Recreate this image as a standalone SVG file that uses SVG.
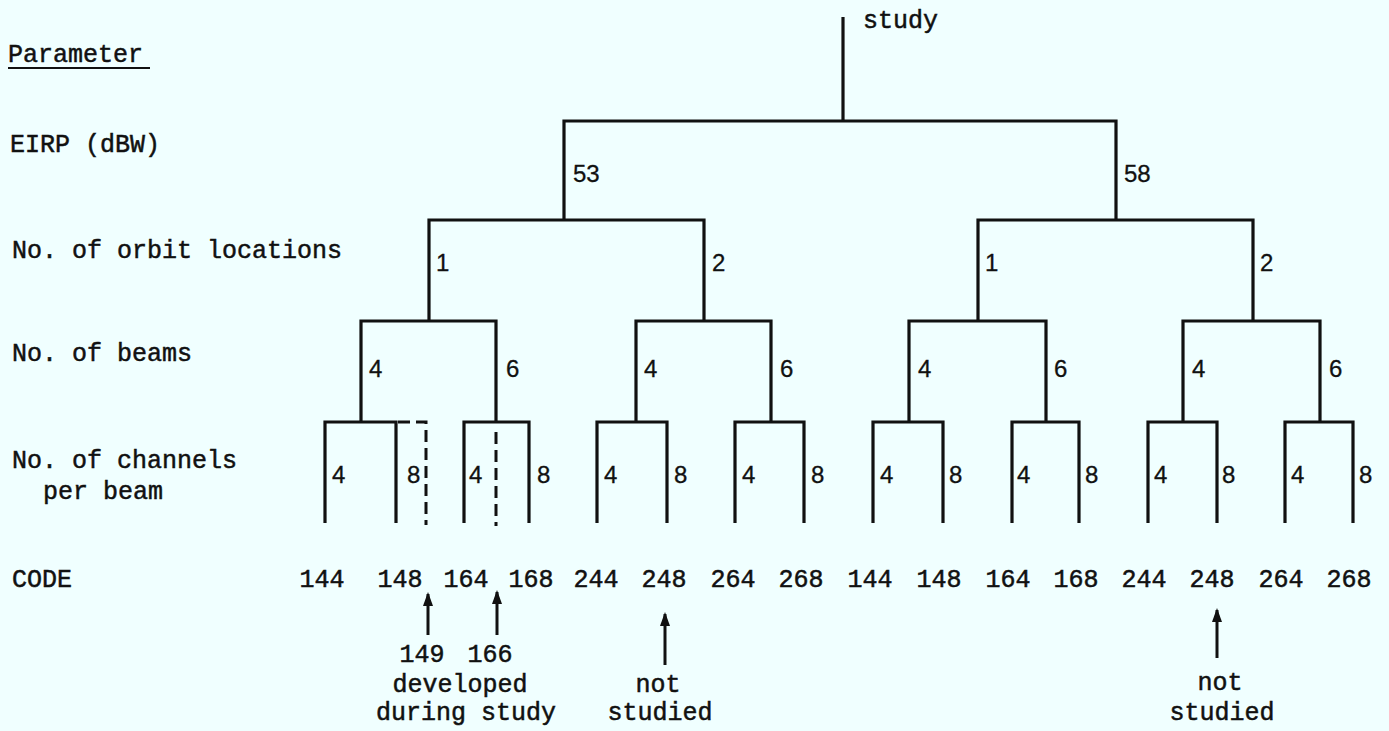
<svg xmlns="http://www.w3.org/2000/svg" width="1389" height="731" viewBox="0 0 1389 731">
  <style>
    .tw { font-family: "Liberation Mono", "Courier New", monospace; font-size: 25px; fill: #111; stroke: #111; stroke-width: 0.5; }
    .num { font-family: "Liberation Sans", Arial, sans-serif; font-size: 24px; fill: #111; stroke: #111; stroke-width: 0.3; }
    .code { font-family: "Liberation Mono", "Courier New", monospace; font-size: 25px; fill: #111; stroke: #111; stroke-width: 0.5; text-anchor: middle; }
    .br { fill: none; stroke: #111; stroke-width: 3.2; stroke-linejoin: miter; }
    .dash { fill: none; stroke: #111; stroke-width: 3; stroke-dasharray: 12 6; }
    .arr { fill: none; stroke: #111; stroke-width: 3; marker-end: url(#head); }
  </style>
  <defs>
    <!-- filled arrowhead pointing along the line direction -->
    <marker id="head" viewBox="0 0 14 10" refX="12" refY="5" markerWidth="14" markerHeight="10" markerUnits="userSpaceOnUse" orient="auto">
      <path d="M0,0 L14,5 L0,10 Z" fill="#111"/>
    </marker>
  </defs>

  <rect width="1389" height="731" fill="#F0FFFF"/>

  <!-- parameter captions on the left -->
  <g id="parameters">
    <text class="tw" x="8" y="62">Parameter</text>
    <line x1="8" y1="68" x2="150" y2="68" stroke="#111" stroke-width="2"/>
    <text class="tw" x="10" y="152">EIRP (dBW)</text>
    <text class="tw" x="12" y="258">No. of orbit locations</text>
    <text class="tw" x="12" y="361">No. of beams</text>
    <text class="tw" x="12" y="468">No. of channels</text>
    <text class="tw" x="43" y="499">per beam</text>
    <text class="tw" x="12" y="587">CODE</text>
  </g>

  <!-- tree brackets -->
  <g id="connectors">
    <path class="br" d="M843,17 V121"/>
    <path class="br" d="M564,220 V121 H1116 V220"/>
    <path class="br" d="M429,321 V220 H704 V321"/>
    <path class="br" d="M978,321 V220 H1253 V321"/>
    <path class="br" d="M361,422 V321 H496 V422"/>
    <path class="br" d="M636,422 V321 H771 V422"/>
    <path class="br" d="M909,422 V321 H1046 V422"/>
    <path class="br" d="M1183,422 V321 H1320 V422"/>
    <path class="br" d="M325,523 V422 H396 V523"/>
    <path class="br" d="M464,523 V422 H529 V523"/>
    <path class="br" d="M597,523 V422 H667 V523"/>
    <path class="br" d="M735,523 V422 H804 V523"/>
    <path class="br" d="M873,523 V422 H943 V523"/>
    <path class="br" d="M1012,523 V422 H1079 V523"/>
    <path class="br" d="M1148,523 V422 H1217 V523"/>
    <path class="br" d="M1285,523 V422 H1353 V523"/>
    <!-- added branches 149 and 166 -->
    <path class="dash" d="M398,422 H426 V525"/>
    <path class="dash" d="M496,432 V526"/>
    <!-- pointer arrows -->
    <path class="arr" d="M428,635 V594"/>
    <path class="arr" d="M497,635 V592"/>
    <path class="arr" d="M665,665 V614"/>
    <path class="arr" d="M1217,658 V610"/>
  </g>

  <g id="root"><text class="tw" x="863" y="28">study</text></g>

  <g id="eirp-53"><text class="num" x="573" y="182">53</text></g>
  <g id="eirp-58"><text class="num" x="1124" y="182">58</text></g>

  <g id="orbit-53-1"><text class="num" x="436" y="271">1</text></g>
  <g id="orbit-53-2"><text class="num" x="712" y="271">2</text></g>
  <g id="orbit-58-1"><text class="num" x="985" y="271">1</text></g>
  <g id="orbit-58-2"><text class="num" x="1260" y="271">2</text></g>

  <g id="beams">
    <text class="num" x="369" y="377">4</text>
    <text class="num" x="506" y="377">6</text>
    <text class="num" x="644" y="377">4</text>
    <text class="num" x="780" y="377">6</text>
    <text class="num" x="918" y="377">4</text>
    <text class="num" x="1054" y="377">6</text>
    <text class="num" x="1192" y="377">4</text>
    <text class="num" x="1329" y="377">6</text>
  </g>

  <g id="channels">
    <text class="num" x="332" y="483">4</text>
    <text class="num" x="407" y="483">8</text>
    <text class="num" x="469" y="483">4</text>
    <text class="num" x="537" y="483">8</text>
    <text class="num" x="604" y="483">4</text>
    <text class="num" x="674" y="483">8</text>
    <text class="num" x="742" y="483">4</text>
    <text class="num" x="811" y="483">8</text>
    <text class="num" x="880" y="483">4</text>
    <text class="num" x="949" y="483">8</text>
    <text class="num" x="1017" y="483">4</text>
    <text class="num" x="1085" y="483">8</text>
    <text class="num" x="1154" y="483">4</text>
    <text class="num" x="1222" y="483">8</text>
    <text class="num" x="1291" y="483">4</text>
    <text class="num" x="1359" y="483">8</text>
  </g>

  <g id="codes">
    <text class="code" x="322" y="587">144</text>
    <text class="code" x="400" y="587">148</text>
    <text class="code" x="466" y="587">164</text>
    <text class="code" x="531" y="587">168</text>
    <text class="code" x="596" y="587">244</text>
    <text class="code" x="664" y="587">248</text>
    <text class="code" x="733" y="587">264</text>
    <text class="code" x="801" y="587">268</text>
    <text class="code" x="870" y="587">144</text>
    <text class="code" x="939" y="587">148</text>
    <text class="code" x="1008" y="587">164</text>
    <text class="code" x="1076" y="587">168</text>
    <text class="code" x="1144" y="587">244</text>
    <text class="code" x="1212" y="587">248</text>
    <text class="code" x="1281" y="587">264</text>
    <text class="code" x="1349" y="587">268</text>
  </g>

  <g id="note-developed">
    <text class="code" x="422" y="662">149</text>
    <text class="code" x="490" y="662">166</text>
    <text class="code" x="460" y="692">developed</text>
    <text class="code" x="466" y="720">during study</text>
  </g>
  <g id="note-not-studied-1">
    <text class="code" x="658" y="692">not</text>
    <text class="code" x="660" y="720">studied</text>
  </g>
  <g id="note-not-studied-2">
    <text class="code" x="1220" y="690">not</text>
    <text class="code" x="1222" y="720">studied</text>
  </g>
</svg>
